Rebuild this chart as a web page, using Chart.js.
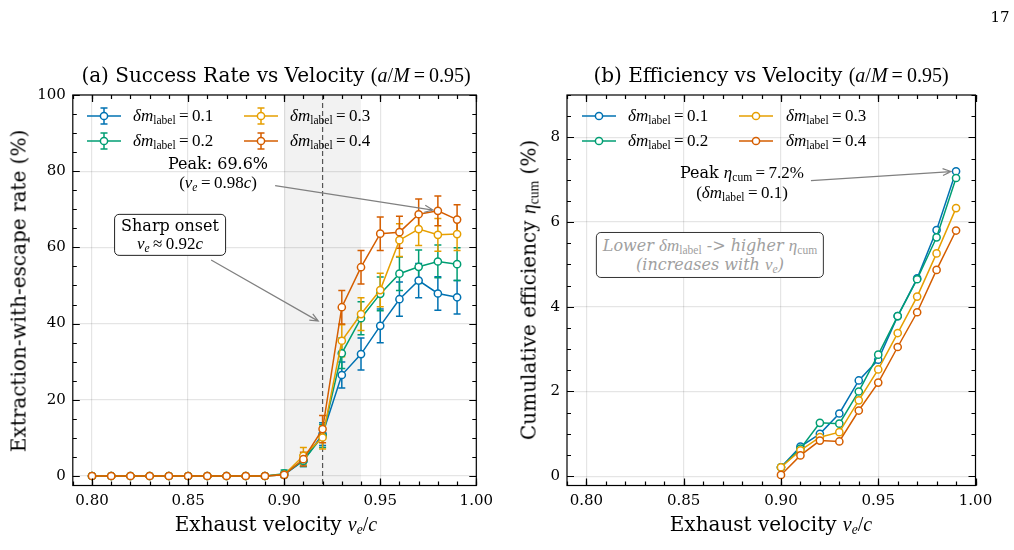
<!DOCTYPE html>
<html lang="en">
<head>
<meta charset="UTF-8">
<title>Success rate and efficiency vs velocity</title>
<script src="https://cdn.jsdelivr.net/npm/chart.js"></script>
<style>
  body { margin: 0; background: #fff; }
  #wrap { position: relative; width: 1014px; height: 550px; overflow: hidden; font-family: "DejaVu Serif", serif; color: #000; }
  canvas { position: absolute; top: 0; }
  .lbl { position: absolute; white-space: nowrap; transform: translate(-50%, -50%); text-align: center; line-height: 1.15; }
  .rot { transform: translate(-50%, -50%) rotate(-90deg); }
  .m { font-family: "Liberation Serif", serif; }
  sub { font-size: 0.68em; vertical-align: -0.25em; line-height: 0; }
  .box { border: 1.5px solid #222; border-radius: 5px; background: #fff; padding: 2px 6px; }
  .leg { position: absolute; white-space: nowrap; font-family: "Liberation Serif", serif; font-size: 17px; transform: translateY(-50%); }
</style>
</head>
<body>
<div id="wrap">
  <canvas id="rate_chart" style="left:0px"></canvas>
  <canvas id="eff_chart" style="left:500px"></canvas>

  <div class="lbl" style="left:1000px; top:18px; font-size:15px;">17</div>

  <!-- titles -->
  <div class="lbl" style="left:276px; top:75px; font-size:20px;">(a) Success Rate vs Velocity <span class="m">(<i>a</i>/<i>M</i>&#8201;=&#8201;0.95)</span></div>
  <div class="lbl" style="left:771px; top:75px; font-size:20px;">(b) Efficiency vs Velocity <span class="m">(<i>a</i>/<i>M</i>&#8201;=&#8201;0.95)</span></div>

  <!-- axis titles -->
  <div class="lbl" style="left:276px; top:524px; font-size:20px;">Exhaust velocity <span class="m"><i>v<sub>e</sub></i>/<i>c</i></span></div>
  <div class="lbl" style="left:771px; top:524px; font-size:20px;">Exhaust velocity <span class="m"><i>v<sub>e</sub></i>/<i>c</i></span></div>
  <div class="lbl rot" style="left:19px; top:291px; font-size:20px;">Extraction-with-escape rate (%)</div>
  <div class="lbl rot" style="left:529px; top:290px; font-size:20px;">Cumulative efficiency <span class="m"><i>η</i><sub>cum</sub></span> (%)</div>

  <!-- legends -->
  <div class="leg" style="left:133px; top:116px;"><i>δm</i><sub>label</sub>&#8201;=&#8201;0.1</div>
  <div class="leg" style="left:133px; top:141px;"><i>δm</i><sub>label</sub>&#8201;=&#8201;0.2</div>
  <div class="leg" style="left:290px; top:116px;"><i>δm</i><sub>label</sub>&#8201;=&#8201;0.3</div>
  <div class="leg" style="left:290px; top:141px;"><i>δm</i><sub>label</sub>&#8201;=&#8201;0.4</div>
  <div class="leg" style="left:628px; top:116px;"><i>δm</i><sub>label</sub>&#8201;=&#8201;0.1</div>
  <div class="leg" style="left:628px; top:141px;"><i>δm</i><sub>label</sub>&#8201;=&#8201;0.2</div>
  <div class="leg" style="left:786px; top:116px;"><i>δm</i><sub>label</sub>&#8201;=&#8201;0.3</div>
  <div class="leg" style="left:786px; top:141px;"><i>δm</i><sub>label</sub>&#8201;=&#8201;0.4</div>

  <!-- annotations -->
  <div class="lbl" style="left:218px; top:174px; font-size:16px;">Peak: 69.6%<br><span class="m" style="font-size:17px;">(<i>v<sub>e</sub></i>&#8201;=&#8201;0.98<i>c</i>)</span></div>
  <div class="lbl box" style="left:170px; top:235px; font-size:16px; line-height:1.1;">Sharp onset<br><span class="m" style="font-size:17px;"><i>v<sub>e</sub></i>&#8201;≈&#8201;0.92<i>c</i></span></div>
  <div class="lbl" style="left:742px; top:183px; font-size:16px;">Peak <span class="m" style="font-size:17px;"><i>η</i><sub>cum</sub>&#8201;=&#8201;7.2%</span><br><span class="m" style="font-size:17px;">(<i>δm</i><sub>label</sub>&#8201;=&#8201;0.1)</span></div>
  <div class="lbl box" style="left:710px; top:255px; font-size:16px; color:#a0a0a0; font-style:italic; border-color:#333; padding:3px 6px; line-height:1.12;">Lower <span class="m" style="font-size:17px;">δm<sub style="font-style:normal">label</sub></span> -&gt; higher <span class="m" style="font-size:17px;">η<sub style="font-style:normal">cum</sub></span><br>(increases with <span class="m" style="font-size:17px;">v<sub>e</sub></span>)</div>
</div>

<script>
  // ---- data ----
  const velocity = [0.80, 0.81, 0.82, 0.83, 0.84, 0.85, 0.86, 0.87, 0.88, 0.89,
                    0.90, 0.91, 0.92, 0.93, 0.94, 0.95, 0.96, 0.97, 0.98, 0.99];
  const dmLabels = ['0.1', '0.2', '0.3', '0.4'];
  const colors = ['#0072B2', '#009E73', '#E69F00', '#D55E00'];

  // success rate (%)
  const rate_01 = [0,0,0,0,0,0,0,0,0,0, 0.3, 4.0, 11.0, 26.5, 32.0, 39.4, 46.4, 51.3, 47.9, 46.9];
  const rate_02 = [0,0,0,0,0,0,0,0,0,0, 0.6, 4.0, 10.5, 32.2, 41.4, 47.8, 53.1, 54.9, 56.3, 55.6];
  const rate_03 = [0,0,0,0,0,0,0,0,0,0, 0.3, 5.3, 10.1, 35.5, 42.5, 48.8, 61.9, 64.8, 63.3, 63.5];
  const rate_04 = [0,0,0,0,0,0,0,0,0,0, 0.3, 4.4, 12.3, 44.3, 54.8, 63.6, 64.0, 68.7, 69.6, 67.3];

  // error bar half widths (%)
  const err_01 = [0,0,0,0,0,0,0,0,0,0, 0.5, 1.5, 3.0, 3.4, 4.2, 4.4, 4.5, 4.5, 4.4, 4.4];
  const err_02 = [0,0,0,0,0,0,0,0,0,0, 1.0, 1.5, 3.0, 4.0, 4.3, 4.4, 4.4, 4.4, 4.3, 4.3];
  const err_03 = [0,0,0,0,0,0,0,0,0,0, 0.5, 2.2, 3.0, 4.2, 4.3, 4.4, 4.3, 4.3, 4.3, 4.3];
  const err_04 = [0,0,0,0,0,0,0,0,0,0, 0.5, 1.8, 3.6, 4.4, 4.4, 4.4, 4.2, 4.0, 3.9, 3.9];

  // cumulative efficiency (%), only from 0.90 up
  const effVelocity = [0.90, 0.91, 0.92, 0.93, 0.94, 0.95, 0.96, 0.97, 0.98, 0.99];
  const eff_01 = [0.21, 0.70, 1.00, 1.48, 2.26, 2.75, 3.78, 4.67, 5.81, 7.20];
  const eff_02 = [0.21, 0.65, 1.26, 1.24, 2.00, 2.87, 3.78, 4.65, 5.64, 7.04];
  const eff_03 = [0.21, 0.61, 0.92, 1.04, 1.79, 2.52, 3.38, 4.24, 5.26, 6.33];
  const eff_04 = [0.03, 0.49, 0.84, 0.82, 1.55, 2.21, 3.05, 3.87, 4.87, 5.80];

  const rateSeries = [rate_01, rate_02, rate_03, rate_04];
  const errSeries = [err_01, err_02, err_03, err_04];
  const effSeries = [eff_01, eff_02, eff_03, eff_04];

  const FONT = '"DejaVu Serif", serif';

  function makeDatasets(xs, series, errs) {
    return series.map(function(vals, i) {
      return {
        label: 'dm_label = ' + dmLabels[i],
        data: xs.map(function(v, j) { return {x: v, y: vals[j]}; }),
        yErr: errs ? errs[i] : null,
        borderColor: colors[i],
        backgroundColor: '#fff',
        pointBackgroundColor: '#fff',
        pointBorderColor: colors[i],
        pointRadius: 3.6,
        pointBorderWidth: 1.5,
        borderWidth: 1.5,
        tension: 0,
        order: 3 - i
      };
    });
  }

  // shaded onset band + dashed line (left panel)
  const onsetBand = {
    id: 'onsetBand',
    beforeDatasetsDraw(chart, args, opts) {
      if (!opts.band) return;
      const {ctx, chartArea: a, scales: {x}} = chart;
      ctx.save();
      const x1 = x.getPixelForValue(opts.band[0]), x2 = x.getPixelForValue(opts.band[1]);
      ctx.globalCompositeOperation = 'multiply';
      ctx.fillStyle = '#f2f2f2';
      ctx.fillRect(x1, a.top, x2 - x1, a.bottom - a.top);
      ctx.globalCompositeOperation = 'source-over';
      const xl = x.getPixelForValue(opts.line);
      ctx.strokeStyle = '#555';
      ctx.lineWidth = 1.2;
      ctx.setLineDash([5, 3]);
      ctx.beginPath(); ctx.moveTo(xl, a.top); ctx.lineTo(xl, a.bottom); ctx.stroke();
      ctx.restore();
    }
  };

  const errorBars = {
    id: 'errorBars',
    beforeDatasetsDraw(chart) {
      const {ctx, scales: {x, y}} = chart;
      chart.data.datasets.forEach(function(ds) {
        if (!ds.yErr) return;
        ctx.save();
        ctx.strokeStyle = ds.borderColor;
        ctx.lineWidth = 1.5;
        ds.data.forEach(function(p, i) {
          const e = ds.yErr[i];
          if (!e) return;
          const px = x.getPixelForValue(p.x);
          const y1 = y.getPixelForValue(p.y - e), y2 = y.getPixelForValue(p.y + e);
          ctx.beginPath();
          ctx.moveTo(px, y1); ctx.lineTo(px, y2);
          ctx.moveTo(px - 3.5, y1); ctx.lineTo(px + 3.5, y1);
          ctx.moveTo(px - 3.5, y2); ctx.lineTo(px + 3.5, y2);
          ctx.stroke();
        });
        ctx.restore();
      });
    }
  };

  // frame, inward ticks on all sides, arrows and legend handles
  const frameTicks = {
    id: 'frameTicks',
    afterDraw(chart, args, opts) {
      const {ctx, chartArea: a, scales: {x, y}} = chart;
      ctx.save();
      ctx.strokeStyle = '#000';
      ctx.lineWidth = 1.2;

      function vals(min, max, step) {
        const out = [];
        for (let k = Math.ceil(min / step - 1e-6); k <= Math.floor(max / step + 1e-6); k++) out.push(k * step);
        return out;
      }
      function xticks(step, len) {
        vals(x.min, x.max, step).forEach(function(v) {
          const px = Math.round(x.getPixelForValue(v)) + 0.5;
          ctx.beginPath();
          ctx.moveTo(px, a.bottom); ctx.lineTo(px, a.bottom - len);
          ctx.moveTo(px, a.top); ctx.lineTo(px, a.top + len);
          ctx.stroke();
        });
      }
      function yticks(step, len) {
        vals(y.min, y.max, step).forEach(function(v) {
          const py = Math.round(y.getPixelForValue(v)) + 0.5;
          ctx.beginPath();
          ctx.moveTo(a.left, py); ctx.lineTo(a.left + len, py);
          ctx.moveTo(a.right, py); ctx.lineTo(a.right - len, py);
          ctx.stroke();
        });
      }
      xticks(0.01, 4); xticks(0.05, 7);
      yticks(opts.yMinor, 4); yticks(opts.yMajor, 7);
      ctx.strokeRect(a.left, a.top, a.right - a.left, a.bottom - a.top);

      // annotation arrows
      ctx.strokeStyle = '#808080';
      ctx.lineWidth = 1.2;
      (opts.arrows || []).forEach(function(ar) {
        const sx = x.getPixelForValue(ar.from[0]), sy = y.getPixelForValue(ar.from[1]);
        let ex = x.getPixelForValue(ar.to[0]), ey = y.getPixelForValue(ar.to[1]);
        const ang = Math.atan2(ey - sy, ex - sx);
        ex -= Math.cos(ang) * 5; ey -= Math.sin(ang) * 5;
        ctx.beginPath();
        ctx.moveTo(sx, sy); ctx.lineTo(ex, ey);
        ctx.moveTo(ex - 9 * Math.cos(ang - 0.4), ey - 9 * Math.sin(ang - 0.4));
        ctx.lineTo(ex, ey);
        ctx.lineTo(ex - 9 * Math.cos(ang + 0.4), ey - 9 * Math.sin(ang + 0.4));
        ctx.stroke();
      });

      // legend handles
      (opts.legend || []).forEach(function(h, i) {
        const c = colors[i];
        ctx.strokeStyle = c;
        ctx.lineWidth = 1.5;
        ctx.beginPath(); ctx.moveTo(h[0] - 17, h[1]); ctx.lineTo(h[0] + 17, h[1]); ctx.stroke();
        if (opts.legendErr) {
          ctx.beginPath();
          ctx.moveTo(h[0], h[1] - 8); ctx.lineTo(h[0], h[1] + 8);
          ctx.moveTo(h[0] - 3.5, h[1] - 8); ctx.lineTo(h[0] + 3.5, h[1] - 8);
          ctx.moveTo(h[0] - 3.5, h[1] + 8); ctx.lineTo(h[0] + 3.5, h[1] + 8);
          ctx.stroke();
        }
        ctx.fillStyle = '#fff';
        ctx.beginPath(); ctx.arc(h[0], h[1], 3.6, 0, Math.PI * 2); ctx.fill(); ctx.stroke();
      });
      ctx.restore();
    }
  };

  function makeChart(id, w, areaLeft, areaRight, datasets, yMin, yMax, yStep, pluginOpts) {
    const el = document.getElementById(id);
    el.width = w; el.height = 550;
    el.style.width = w + 'px'; el.style.height = '550px';
    return new Chart(el, {
      type: 'line',
      data: { datasets: datasets },
      plugins: [onsetBand, errorBars, frameTicks],
      options: {
        responsive: false,
        animation: false,
        devicePixelRatio: 1,
        layout: { padding: { left: 0, top: 95, right: w - areaRight, bottom: 34.5 } },
        plugins: {
          legend: { display: false },
          tooltip: { enabled: false },
          onsetBand: pluginOpts.band || {},
          frameTicks: pluginOpts.frame
        },
        scales: {
          x: {
            type: 'linear',
            min: 0.79, max: 1.0,
            afterFit: function(s) { s.height = 30; },
            grid: { color: 'rgba(0,0,0,0.1)', lineWidth: 1.2, drawTicks: false },
            border: { display: false },
            ticks: {
              stepSize: 0.05, includeBounds: false, padding: 7,
              color: '#000', font: { family: FONT, size: 15 },
              callback: function(v) { return v.toFixed(2); }
            }
          },
          y: {
            min: yMin, max: yMax,
            afterFit: function(s) { s.width = areaLeft; },
            grid: { color: 'rgba(0,0,0,0.1)', lineWidth: 1.2, drawTicks: false },
            border: { display: false },
            ticks: {
              stepSize: yStep, includeBounds: false, padding: 7,
              color: '#000', font: { family: FONT, size: 15 },
              callback: function(v) { return String(Math.round(v)); }
            }
          }
        }
      }
    });
  }

  makeChart('rate_chart', 500, 72.8, 480.5,
    makeDatasets(velocity, rateSeries, errSeries), -2.5, 100, 20, {
      band: { band: [0.90, 0.94], line: 0.92 },
      frame: {
        yMinor: 5, yMajor: 20,
        arrows: [ { from: [0.8953, 76.2], to: [0.98, 69.6] },
                  { from: [0.862, 56.7], to: [0.92, 40] } ],
        legend: [[104, 116], [104, 141], [261, 116], [261, 141]],
        legendErr: true
      }
    });

  makeChart('eff_chart', 514, 67, 475.5,
    makeDatasets(effVelocity, effSeries, null), -0.22, 9.0, 2, {
      frame: {
        yMinor: 0.5, yMajor: 2,
        arrows: [ { from: [0.9154, 6.98], to: [0.99, 7.2] } ],
        legend: [[99, 116], [99, 141], [256, 116], [256, 141]],
        legendErr: false
      }
    });
</script>
</body>
</html>
